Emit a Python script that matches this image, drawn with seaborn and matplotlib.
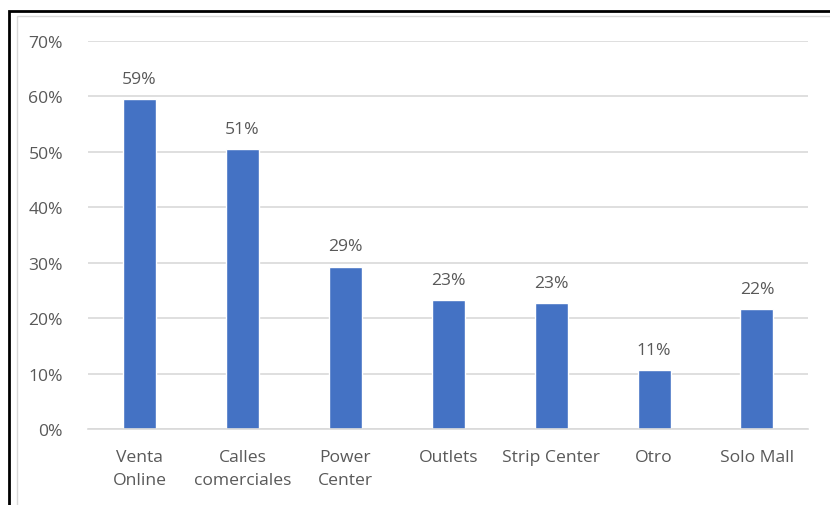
import numpy as np
import pandas as pd
import matplotlib.pyplot as plt
import seaborn as sns
from matplotlib.patches import Rectangle

categories = ['Venta\nOnline', 'Calles\ncomerciales', 'Power\nCenter', 'Outlets',
              'Strip Center', 'Otro', 'Solo Mall']
values = [59.5, 50.5, 29.3, 23.2, 22.7, 10.6, 21.6]
labels = ['59%', '51%', '29%', '23%', '23%', '11%', '22%']
yticks = [0, 10, 20, 30, 40, 50, 60, 70]

df = pd.DataFrame({'cat': categories, 'val': values})

sns.set_style('white')
plt.rcParams['font.family'] = ['Open Sans', 'DejaVu Sans']
text_color = '#595959'
fs = 12.6

fig = plt.figure(figsize=(8.3, 5.06), dpi=100)
ax = fig.add_axes([0.106, 0.150, 0.868, 0.767])

sns.barplot(data=df, x='cat', y='val', color='#4472C4', width=0.32,
            saturation=1, ax=ax)

# value labels above bars
for i, (v, lab) in enumerate(zip(values, labels)):
    ax.text(i, v + 2.2, lab, ha='center', va='bottom', fontsize=fs, color=text_color)

ax.set_ylim(0, 70)
ax.set_xlim(-0.5, len(categories) - 0.5)
ax.set_yticks(yticks)
ax.set_yticklabels([f'{t}%' for t in yticks])
ax.set_xticks(range(len(categories)))
ax.set_xticklabels(categories, linespacing=1.65, va='top')
ax.yaxis.grid(True, color='#d9d9d9', linewidth=1.2)
ax.set_axisbelow(True)
for s in ['top', 'right', 'left']:
    ax.spines[s].set_visible(False)
ax.spines['bottom'].set_color('#d9d9d9')
ax.spines['bottom'].set_linewidth(1.2)
ax.tick_params(axis='both', length=0, labelsize=fs, labelcolor=text_color)
ax.tick_params(axis='y', pad=18)
ax.tick_params(axis='x', pad=14)
ax.set_xlabel('')
ax.set_ylabel('')

# chart frame
fig.patches.append(Rectangle((17 / 830, -0.01), 1.0, 1 - 17 / 506 + 0.01,
                             transform=fig.transFigure, fill=False,
                             edgecolor='#d9d9d9', linewidth=1))
fig.patches.append(Rectangle((9 / 830, -0.05), 1.1, 1 - 12 / 506 + 0.05,
                             transform=fig.transFigure, fill=False,
                             edgecolor='black', linewidth=2))

fig.savefig('out.png', dpi=100)
